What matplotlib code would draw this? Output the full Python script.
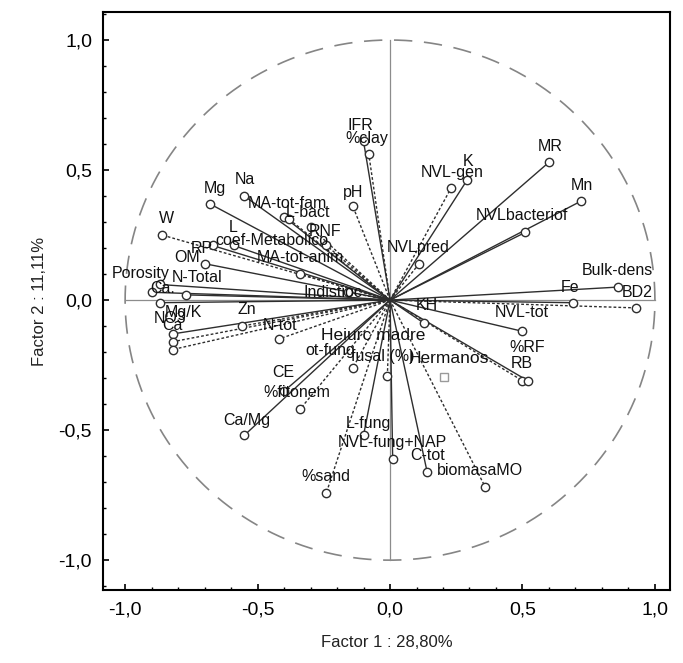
import numpy as np
import matplotlib
matplotlib.use("Agg")
import matplotlib.pyplot as plt
from matplotlib.ticker import FuncFormatter, MultipleLocator

plt.rcParams['font.family'] = ['Liberation Sans', 'DejaVu Sans']

# variable loadings (Factor 1, Factor 2)
variables = ['IFR', '%clay', 'pH', 'Mg', 'Na', 'MA-tot-fam', 'L-bact', 'RNF', 'W', 'L',
             'coef-Metabolico', 'RP', 'OM', 'MA-tot-anim', 'Porosity', 'N-Total', 'Ca.',
             'Indistioc', 'Mg/K', 'Zn', 'NO3', 'Ca', 'N-tot', 'ot-fung', 'fusal (%)', 'CE',
             '%fitonem', 'Ca/Mg', 'L-fung', 'NVL-fung+NAP', 'C-tot', '%sand', 'biomasaMO',
             'K', 'NVL-gen', 'MR', 'Mn', 'NVLbacteriof', 'NVLpred', 'Bulk-dens', 'Fe', 'BD2',
             'KH', 'NVL-tot', '%RF', 'RB']
f1 = [-0.10, -0.08, -0.14, -0.68, -0.55, -0.40, -0.38, -0.30, -0.86, -0.59,
      -0.24, -0.67, -0.70, -0.34, -0.87, -0.77, -0.90,
      -0.16, -0.87, -0.56, -0.82, -0.82, -0.42, -0.14, -0.01, -0.40,
      -0.34, -0.55, -0.10, 0.01, 0.14, -0.24, 0.36,
      0.29, 0.23, 0.60, 0.72, 0.51, 0.11, 0.86, 0.69, 0.93,
      0.13, 0.50, 0.50, 0.52]
f2 = [0.61, 0.56, 0.36, 0.37, 0.40, 0.32, 0.31, 0.28, 0.25, 0.21,
      0.21, 0.21, 0.14, 0.10, 0.06, 0.02, 0.03,
      0.03, -0.01, -0.10, -0.13, -0.16, -0.15, -0.26, -0.29, -0.35,
      -0.42, -0.52, -0.52, -0.61, -0.66, -0.74, -0.72,
      0.46, 0.43, 0.53, 0.38, 0.26, 0.14, 0.05, -0.01, -0.03,
      -0.09, -0.12, -0.31, -0.31]
extra_pts = [-0.82]
extra_pts_y = [-0.19]

# supplementary cases
supp_labels = ['Heiurc madre', 'Hermanos']
supp_x = [-0.06, 0.205]
supp_y = [-0.12, -0.295]

# label placement (data coords of text centre)
label_pos = {
    'IFR': (-0.113, 0.673), '%clay': (-0.087, 0.623), 'pH': (-0.140, 0.415),
    'Mg': (-0.660, 0.431), 'Na': (-0.547, 0.462), 'MA-tot-fam': (-0.389, 0.373),
    'L-bact': (-0.309, 0.338), 'RNF': (-0.245, 0.262), 'W': (-0.842, 0.315),
    'L': (-0.592, 0.281), 'coef-Metabolico': (-0.445, 0.231), 'RP': (-0.709, 0.200),
    'OM': (-0.766, 0.165), 'MA-tot-anim': (-0.340, 0.162), 'Porosity': (-0.943, 0.104),
    'N-Total': (-0.728, 0.088), 'Ca.': (-0.860, 0.046), 'Indistioc': (-0.215, 0.031),
    'Mg/K': (-0.781, -0.046), 'Zn': (-0.540, -0.038), 'NO3': (-0.830, -0.069),
    'Ca': (-0.823, -0.096), 'N-tot': (-0.415, -0.096), 'ot-fung': (-0.226, -0.192),
    'fusal (%)': (-0.026, -0.215), 'CE': (-0.404, -0.277), '%fitonem': (-0.351, -0.354),
    'Ca/Mg': (-0.540, -0.462), 'L-fung': (-0.083, -0.473), 'NVL-fung+NAP': (0.008, -0.546),
    'C-tot': (0.143, -0.596), '%sand': (-0.242, -0.677), 'biomasaMO': (0.340, -0.654),
    'K': (0.294, 0.531), 'NVL-gen': (0.234, 0.492), 'MR': (0.604, 0.592),
    'Mn': (0.725, 0.442), 'NVLbacteriof': (0.498, 0.327), 'NVLpred': (0.106, 0.204),
    'Bulk-dens': (0.857, 0.115), 'Fe': (0.679, 0.050), 'BD2': (0.932, 0.031),
    'KH': (0.140, -0.019), 'NVL-tot': (0.498, -0.046), '%RF': (0.517, -0.181),
    'RB': (0.498, -0.242),
}
supp_pos = {'Heiurc madre': (-0.064, -0.135), 'Hermanos': (0.223, -0.223)}

dotted = {'%clay', 'pH', 'L-bact', 'RNF', 'coef-Metabolico', 'MA-tot-anim', 'Indistioc',
          'Ca', 'N-tot', 'ot-fung', '%fitonem', '%sand', 'biomasaMO', 'BD2', '%RF',
          'NVL-gen', 'NVLpred', 'Zn', 'W', 'fusal (%)'}


def pca_circle():
    fig = plt.figure(figsize=(6.83, 6.63), dpi=100)
    ax = fig.add_axes([0.151, 0.110, 0.830, 0.872])

    # unit circle and axes through origin
    t = np.linspace(0, 2 * np.pi, 400)
    ax.plot(np.cos(t), np.sin(t), color='#858585', lw=1.2, dashes=(11, 7), zorder=1)
    ax.plot([-1, 1], [0, 0], color='#8c8c8c', lw=0.9, zorder=1)
    ax.plot([0, 0], [-1, 1], color='#8c8c8c', lw=0.9, zorder=1)

    for name, x, y in zip(variables, f1, f2):
        if name in dotted:
            ax.plot([0, x], [0, y], color='#2e2e2e', lw=1.0, dashes=(2, 1.5), zorder=2)
        else:
            ax.plot([0, x], [0, y], color='#2e2e2e', lw=1.0, zorder=2)
        ax.plot(x, y, marker='o', ms=6, mfc='white', mec='#2e2e2e', mew=1.0, zorder=3)
        lx, ly = label_pos[name]
        ax.text(lx, ly, name, fontsize=11.5, ha='center', va='center', color='#111111', zorder=4)
    for x, y in zip(extra_pts, extra_pts_y):
        ax.plot([0, x], [0, y], color='#2e2e2e', lw=1.0, dashes=(2, 1.5), zorder=2)
        ax.plot(x, y, marker='o', ms=6, mfc='white', mec='#2e2e2e', mew=1.0, zorder=3)

    for name, x, y in zip(supp_labels, supp_x, supp_y):
        if name == 'Hermanos':
            ax.plot(x, y, marker='s', ms=6, mfc='white', mec='#9a9a9a', mew=1.0, zorder=3)
        lx, ly = supp_pos[name]
        ax.text(lx, ly, name, fontsize=12.5, ha='center', va='center', color='#111111', zorder=4)

    ax.set_xlim(-1.083, 1.057)
    ax.set_ylim(-1.115, 1.108)
    fmt = FuncFormatter(lambda v, p: ('%.1f' % v).replace('.', ','))
    for a in (ax.xaxis, ax.yaxis):
        a.set_major_locator(MultipleLocator(0.5))
        a.set_minor_locator(MultipleLocator(0.1))
        a.set_major_formatter(fmt)
    ax.tick_params(which='major', direction='in', length=4, width=1.2, labelsize=14, pad=8)
    ax.tick_params(which='minor', direction='in', length=2, width=1.0)
    for s in ax.spines.values():
        s.set_linewidth(1.5)
    ax.set_xlabel('Factor 1 : 28,80%', fontsize=12, labelpad=12, color='#222222')
    ax.set_ylabel('Factor 2 : 11,11%', fontsize=12, labelpad=8, color='#222222')

    fig.savefig('out.png', dpi=100)


def main():
    pca_circle()


if __name__ == "__main__":
    main()
